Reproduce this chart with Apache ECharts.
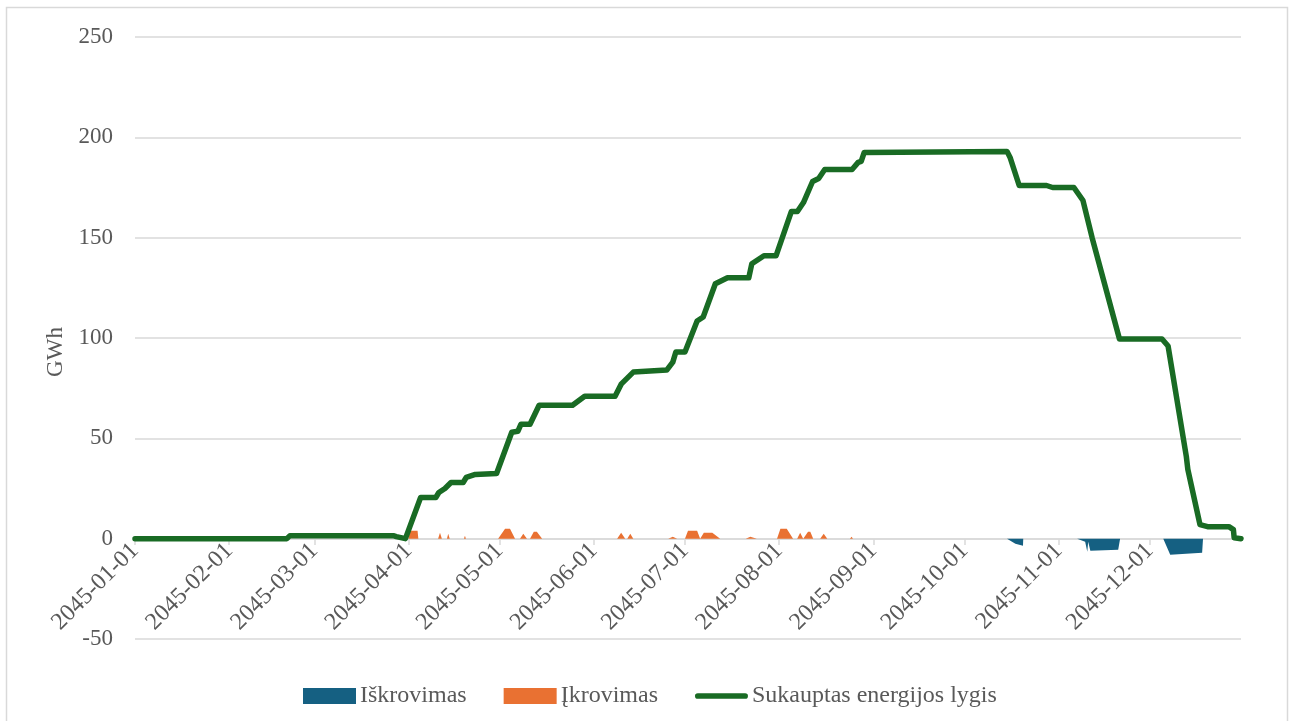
<!DOCTYPE html>
<html>
<head>
<meta charset="utf-8">
<title>Sukauptas energijos lygis</title>
<script src="https://cdn.jsdelivr.net/npm/echarts@6/dist/echarts.min.js"></script>
<style>
  html, body { margin: 0; padding: 0; background: #fff; }
  #chart { width: 1294px; height: 721px; }
</style>
</head>
<body>
<div id="chart"></div>
<script>
// stored energy level (GWh), breakpoints of the curve
const levelDates = [
  '2045-01-01', '2045-02-20', '2045-02-21', '2045-03-27', '2045-03-28', '2045-03-31',
  '2045-04-05', '2045-04-10', '2045-04-11', '2045-04-13', '2045-04-15', '2045-04-19',
  '2045-04-20', '2045-04-23', '2045-04-30', '2045-05-05', '2045-05-07', '2045-05-08',
  '2045-05-11', '2045-05-14', '2045-05-25', '2045-05-29', '2045-06-08', '2045-06-10',
  '2045-06-12', '2045-06-14', '2045-06-25', '2045-06-27', '2045-06-28', '2045-07-01',
  '2045-07-05', '2045-07-07', '2045-07-11', '2045-07-15', '2045-07-22', '2045-07-23',
  '2045-07-27', '2045-07-31', '2045-08-05', '2045-08-07', '2045-08-09', '2045-08-12',
  '2045-08-14', '2045-08-16', '2045-08-25', '2045-08-27', '2045-08-28', '2045-08-29',
  '2045-10-15', '2045-10-16', '2045-10-19', '2045-10-28', '2045-10-30', '2045-11-06',
  '2045-11-09', '2045-11-12', '2045-11-21', '2045-12-05', '2045-12-07', '2045-12-13 00:00',
  '2045-12-13 12:00', '2045-12-17 12:00', '2045-12-20', '2045-12-27', '2045-12-28 12:00',
  '2045-12-28 18:00', '2045-12-31'
]
const levelGWh = [
  0, 0, 1.5, 1.5, 1, 0,
  20.5, 20.5, 23, 25, 28, 28,
  30.5, 32, 32.5, 53, 53.5, 57,
  57, 66.5, 66.5, 71, 71, 77,
  80, 83, 84, 88, 93, 93,
  108.5, 110.5, 127, 130, 130, 137,
  141, 141, 163, 163, 167.5, 178,
  179.5, 184, 184, 187.5, 188, 192.5,
  193, 190, 176, 176, 175, 175,
  168.5, 150, 99.5, 99.5, 96, 41,
  34.5, 7, 6, 6, 4.5,
  0.5, 0
]

// charging (Įkrovimas)
const chargeTimes = [
  '2045-04-01 00:00', '2045-04-01 06:00', '2045-04-04 00:00', '2045-04-04 06:00',
  '2045-04-10 18:00', '2045-04-11 09:00', '2045-04-12 00:00',
  '2045-04-13 16:00', '2045-04-14 02:00', '2045-04-14 14:00',
  '2045-04-19 06:00', '2045-04-19 14:00', '2045-04-19 22:00',
  '2045-04-23 12:00', '2045-04-24 00:00', '2045-04-24 12:00',
  '2045-04-30 12:00', '2045-05-02 19:00', '2045-05-04 10:00', '2045-05-06 02:00',
  '2045-05-07 17:00', '2045-05-08 19:00', '2045-05-10 00:00',
  '2045-05-11 00:00', '2045-05-12 06:00', '2045-05-13 06:00', '2045-05-15 00:00',
  '2045-05-26 00:00', '2045-05-26 12:00', '2045-05-27 00:00',
  '2045-06-08 16:00', '2045-06-10 00:00', '2045-06-11 08:00',
  '2045-06-12 00:00', '2045-06-13 00:00', '2045-06-14 00:00',
  '2045-06-25 12:00', '2045-06-27 00:00', '2045-06-28 10:00',
  '2045-07-01 00:00', '2045-07-02 00:00', '2045-07-05 00:00', '2045-07-06 00:00',
  '2045-07-06 15:00', '2045-07-07 05:00', '2045-07-10 00:00', '2045-07-12 14:00',
  '2045-07-21 00:00', '2045-07-22 12:00', '2045-07-24 16:00',
  '2045-07-31 07:00', '2045-08-01 10:00', '2045-08-03 12:00', '2045-08-05 14:00',
  '2045-08-06 22:00', '2045-08-07 22:00', '2045-08-08 22:00',
  '2045-08-09 12:00', '2045-08-10 12:00', '2045-08-11 06:00', '2045-08-12 05:00',
  '2045-08-14 12:00', '2045-08-15 16:00', '2045-08-16 20:00',
  '2045-08-24 07:00', '2045-08-24 20:00', '2045-08-25 07:00'
]
const chargeGWh = [
  0, 4, 4, 0,
  0, 3, 0,
  0, 2.5, 0,
  0, 1.5, 0,
  0, 0.5, 0,
  0, 5, 5, 0,
  0, 2.5, 0,
  0, 3.5, 3.5, 0,
  0, 0.5, 0,
  0, 3, 0,
  0, 2.5, 0,
  0, 1, 0,
  0, 4, 4, 0,
  0, 3, 3, 0,
  0, 1, 0,
  0, 5, 5, 0,
  0, 3, 0,
  0, 3.5, 3.5, 0,
  0, 2.5, 0,
  0, 1, 0
]

// discharging (Iškrovimas)
const dischargeTimes = [
  '2045-10-15 00:00', '2045-10-17 18:00', '2045-10-20 06:00', '2045-10-20 08:00',
  '2045-11-07 02:00', '2045-11-09 17:00', '2045-11-10 10:00', '2045-11-10 17:00',
  '2045-11-11 10:00', '2045-11-20 14:00', '2045-11-21 05:00',
  '2045-12-05 10:00', '2045-12-07 17:00', '2045-12-18 05:00', '2045-12-18 12:00'
]
const dischargeGWh = [
  0, -2.5, -3.5, 0,
  0, -1.5, -6.5, -1.5,
  -6, -5.5, 0,
  0, -8, -7, 0
]

const yTicks = { min: -50, max: 250, step: 50 }

const FONT = 'Liberation Serif'
const GRAY = '#595959'
const LINE_GRAY = '#d9d9d9'

const zip = (a, b) => a.map((t, i) => [t, b[i]])
const pad = n => (n < 10 ? '0' : '') + n
const fmtDate = v => {
  const d = new Date(v)
  return d.getFullYear() + '-' + pad(d.getMonth() + 1) + '-' + pad(d.getDate())
}

const chart = echarts.init(document.getElementById('chart'), null, { renderer: 'canvas' })

chart.setOption({
  animation: false,
  backgroundColor: '#fff',
  color: ['#156082', '#E97132', '#196B24'],
  graphic: [{
    type: 'rect',
    shape: { x: 6.5, y: 7.5, width: 1281, height: 730 },
    style: { fill: 'none', stroke: LINE_GRAY, lineWidth: 1.5 },
    silent: true
  }],
  grid: { left: 135, right: 53, top: 37, bottom: 82, containLabel: false, outerBoundsMode: 'none' },
  legend: {
    left: 298,
    top: 679,
    itemGap: 37,
    itemWidth: 53,
    itemHeight: 16,
    textStyle: { fontFamily: FONT, fontSize: 24, color: GRAY, padding: [0, 0, 0, -1] },
    data: [
      { name: 'Iškrovimas', icon: 'rect' },
      { name: 'Įkrovimas', icon: 'rect' },
      { name: 'Sukauptas energijos lygis', icon: 'path://M3,0 L53,0 A3,3 0 0 1 53,6 L3,6 A3,3 0 0 1 3,0 Z' }
    ]
  },
  xAxis: {
    type: 'time',
    min: '2045-01-01',
    max: '2045-12-31',
    splitNumber: 12,
    // the axis sits on the zero line, 100 px above the plot bottom
    offset: -100,
    axisLine: { show: true, onZero: false, lineStyle: { color: LINE_GRAY, width: 1.5 } },
    axisTick: { show: true, length: 6, lineStyle: { color: LINE_GRAY, width: 1.5 } },
    splitLine: { show: false },
    axisLabel: {
      rotate: 45,
      margin: 8,
      fontFamily: FONT,
      fontSize: 24,
      color: GRAY,
      hideOverlap: false,
      formatter: v => fmtDate(v)
    }
  },
  yAxis: {
    type: 'value',
    min: yTicks.min,
    max: yTicks.max,
    interval: yTicks.step,
    name: 'GWh',
    nameLocation: 'middle',
    nameRotate: 90,
    nameGap: 68,
    nameTextStyle: { fontFamily: FONT, fontSize: 23, color: GRAY, padding: [0, 28, 0, 0] },
    axisLine: { show: false },
    axisTick: { show: false },
    axisLabel: { margin: 22, fontFamily: FONT, fontSize: 23, color: GRAY },
    splitLine: { lineStyle: { color: LINE_GRAY, width: 1.5 } }
  },
  series: [
    {
      name: 'Iškrovimas',
      type: 'line',
      data: zip(dischargeTimes, dischargeGWh),
      symbol: 'none',
      lineStyle: { width: 0 },
      itemStyle: { color: '#156082' },
      areaStyle: { color: '#156082', opacity: 1 }
    },
    {
      name: 'Įkrovimas',
      type: 'line',
      data: zip(chargeTimes, chargeGWh),
      symbol: 'none',
      lineStyle: { width: 0 },
      itemStyle: { color: '#E97132' },
      areaStyle: { color: '#E97132', opacity: 1 }
    },
    {
      name: 'Sukauptas energijos lygis',
      type: 'line',
      data: zip(levelDates, levelGWh),
      symbol: 'none',
      itemStyle: { color: '#196B24' },
      lineStyle: { color: '#196B24', width: 5.5, cap: 'round', join: 'round' }
    }
  ]
})
</script>
</body>
</html>
